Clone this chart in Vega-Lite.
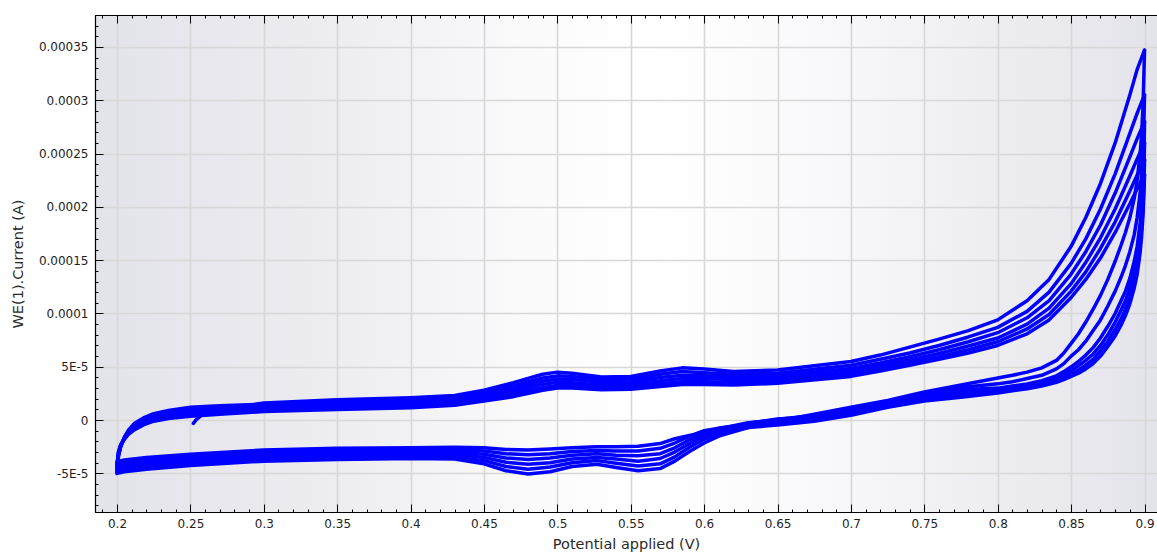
{
  "$schema": "https://vega.github.io/schema/vega-lite/v6.json",
  "width": 1062,
  "height": 497,
  "autosize": {"type": "none"},
  "padding": {"left": 95, "top": 15, "right": 0, "bottom": 40},
  "background": "white",
  "config": {
    "view": {
      "fill": {"gradient": "linear", "x1": 0, "y1": 0, "x2": 1, "y2": 0,
        "stops": [
          {"offset": 0, "color": "#e3e3ea"},
          {"offset": 0.2, "color": "#ebebf0"},
          {"offset": 0.4, "color": "#fafafb"},
          {"offset": 0.52, "color": "#ffffff"},
          {"offset": 0.7, "color": "#f8f8fa"},
          {"offset": 0.85, "color": "#ededf1"},
          {"offset": 1, "color": "#e3e3ea"}
        ]},
      "stroke": "#000000",
      "strokeWidth": 1
    },
    "axis": {
      "labelFont": "DejaVu Sans",
      "labelFontSize": 12,
      "labelColor": "#1e1e1e",
      "titleFont": "DejaVu Sans",
      "titleFontSize": 14.5,
      "titleFontWeight": "normal",
      "titleColor": "#2a2a2a",
      "gridColor": "#d8d8d8",
      "gridWidth": 1.6,
      "domainColor": "#000000",
      "domainWidth": 1.2,
      "tickColor": "#000000",
      "tickWidth": 1,
      "labelOverlap": false,
      "labelFlush": false,
      "labelBound": false
    }
  },
  "data": {"values": [
    {"b":"f1","v":0.252,"i":-0.3e-5},{"b":"f1","v":0.254,"i":0.05e-5},{"b":"f1","v":0.257,"i":0.4e-5},{"b":"f1","v":0.262,"i":0.7e-5},{"b":"f1","v":0.27,"i":0.95e-5},{"b":"f1","v":0.3,"i":1.6e-5},{"b":"f1","v":0.35,"i":1.9e-5},{"b":"f1","v":0.4,"i":2.1e-5},{"b":"f1","v":0.43,"i":2.3e-5},{"b":"f1","v":0.45,"i":2.8e-5},{"b":"f1","v":0.47,"i":3.5e-5},{"b":"f1","v":0.49,"i":4.3e-5},{"b":"f1","v":0.5,"i":4.5e-5},{"b":"f1","v":0.51,"i":4.4e-5},{"b":"f1","v":0.53,"i":4.05e-5},{"b":"f1","v":0.55,"i":4.1e-5},{"b":"f1","v":0.57,"i":4.6e-5},{"b":"f1","v":0.585,"i":4.9e-5},{"b":"f1","v":0.6,"i":4.8e-5},{"b":"f1","v":0.62,"i":4.55e-5},{"b":"f1","v":0.65,"i":4.7e-5},{"b":"f1","v":0.7,"i":5.5e-5},{"b":"f1","v":0.72,"i":6.1e-5},{"b":"f1","v":0.74,"i":6.85e-5},{"b":"f1","v":0.76,"i":7.6e-5},{"b":"f1","v":0.78,"i":8.4e-5},{"b":"f1","v":0.8,"i":9.4e-5},{"b":"f1","v":0.82,"i":11.2e-5},{"b":"f1","v":0.835,"i":13.2e-5},{"b":"f1","v":0.85,"i":16.3e-5},{"b":"f1","v":0.86,"i":19.0e-5},{"b":"f1","v":0.87,"i":22.2e-5},{"b":"f1","v":0.88,"i":26.0e-5},{"b":"f1","v":0.89,"i":30.5e-5},{"b":"f1","v":0.895,"i":32.9e-5},{"b":"f1","v":0.9,"i":34.7e-5},

    {"b":"r1","v":0.9,"i":34.7e-5},{"b":"r1","v":0.8995,"i":32.0e-5},{"b":"r1","v":0.899,"i":29.5e-5},{"b":"r1","v":0.898,"i":26.8e-5},{"b":"r1","v":0.897,"i":25.0e-5},{"b":"r1","v":0.895,"i":22.5e-5},{"b":"r1","v":0.893,"i":20.8e-5},{"b":"r1","v":0.89,"i":19.0e-5},{"b":"r1","v":0.887,"i":17.6e-5},{"b":"r1","v":0.884,"i":16.4e-5},{"b":"r1","v":0.88,"i":14.9e-5},{"b":"r1","v":0.875,"i":13.2e-5},{"b":"r1","v":0.87,"i":11.7e-5},{"b":"r1","v":0.865,"i":10.4e-5},{"b":"r1","v":0.86,"i":9.2e-5},{"b":"r1","v":0.855,"i":8.1e-5},{"b":"r1","v":0.85,"i":7.2e-5},{"b":"r1","v":0.845,"i":6.3e-5},{"b":"r1","v":0.84,"i":5.6e-5},{"b":"r1","v":0.83,"i":4.9e-5},{"b":"r1","v":0.82,"i":4.5e-5},{"b":"r1","v":0.81,"i":4.2e-5},{"b":"r1","v":0.8,"i":3.95e-5},{"b":"r1","v":0.775,"i":3.3e-5},{"b":"r1","v":0.75,"i":2.65e-5},{"b":"r1","v":0.725,"i":1.85e-5},{"b":"r1","v":0.7,"i":1.2e-5},{"b":"r1","v":0.675,"i":0.55e-5},{"b":"r1","v":0.65,"i":-0.1e-5},{"b":"r1","v":0.63,"i":-0.7e-5},{"b":"r1","v":0.61,"i":-1.5e-5},{"b":"r1","v":0.6,"i":-2.15e-5},{"b":"r1","v":0.59,"i":-2.95e-5},{"b":"r1","v":0.58,"i":-3.85e-5},{"b":"r1","v":0.57,"i":-4.55e-5},{"b":"r1","v":0.555,"i":-4.75e-5},{"b":"r1","v":0.54,"i":-4.45e-5},{"b":"r1","v":0.527,"i":-4.15e-5},{"b":"r1","v":0.51,"i":-4.35e-5},{"b":"r1","v":0.495,"i":-4.85e-5},{"b":"r1","v":0.48,"i":-5.05e-5},{"b":"r1","v":0.465,"i":-4.75e-5},{"b":"r1","v":0.45,"i":-4.1e-5},{"b":"r1","v":0.43,"i":-3.65e-5},{"b":"r1","v":0.4,"i":-3.6e-5},{"b":"r1","v":0.35,"i":-3.7e-5},{"b":"r1","v":0.3,"i":-3.85e-5},{"b":"r1","v":0.25,"i":-4.25e-5},{"b":"r1","v":0.22,"i":-4.6e-5},{"b":"r1","v":0.205,"i":-4.85e-5},{"b":"r1","v":0.2,"i":-5.0e-5},

    {"b":"f2","v":0.2,"i":-5.0e-5},{"b":"f2","v":0.2005,"i":-4.2e-5},{"b":"f2","v":0.201,"i":-3.4e-5},{"b":"f2","v":0.2025,"i":-2.5e-5},{"b":"f2","v":0.205,"i":-1.6e-5},{"b":"f2","v":0.208,"i":-0.9e-5},{"b":"f2","v":0.212,"i":-0.3e-5},{"b":"f2","v":0.218,"i":0.2e-5},{"b":"f2","v":0.225,"i":0.6e-5},{"b":"f2","v":0.235,"i":0.9e-5},{"b":"f2","v":0.25,"i":1.2e-5},{"b":"f2","v":0.27,"i":1.35e-5},{"b":"f2","v":0.3,"i":1.5e-5},{"b":"f2","v":0.35,"i":1.75e-5},{"b":"f2","v":0.4,"i":1.95e-5},{"b":"f2","v":0.43,"i":2.15e-5},{"b":"f2","v":0.45,"i":2.6e-5},{"b":"f2","v":0.47,"i":3.2e-5},{"b":"f2","v":0.49,"i":3.95e-5},{"b":"f2","v":0.5,"i":4.15e-5},{"b":"f2","v":0.51,"i":4.1e-5},{"b":"f2","v":0.53,"i":3.8e-5},{"b":"f2","v":0.55,"i":3.85e-5},{"b":"f2","v":0.57,"i":4.3e-5},{"b":"f2","v":0.585,"i":4.55e-5},{"b":"f2","v":0.6,"i":4.45e-5},{"b":"f2","v":0.62,"i":4.3e-5},{"b":"f2","v":0.65,"i":4.4e-5},{"b":"f2","v":0.7,"i":5.15e-5},{"b":"f2","v":0.72,"i":5.7e-5},{"b":"f2","v":0.74,"i":6.3e-5},{"b":"f2","v":0.76,"i":7.0e-5},{"b":"f2","v":0.78,"i":7.8e-5},{"b":"f2","v":0.8,"i":8.7e-5},{"b":"f2","v":0.82,"i":10.2e-5},{"b":"f2","v":0.835,"i":12.0e-5},{"b":"f2","v":0.85,"i":14.7e-5},{"b":"f2","v":0.86,"i":17.0e-5},{"b":"f2","v":0.87,"i":19.8e-5},{"b":"f2","v":0.88,"i":23.1e-5},{"b":"f2","v":0.89,"i":26.9e-5},{"b":"f2","v":0.895,"i":28.8e-5},{"b":"f2","v":0.9,"i":30.5e-5},

    {"b":"r2","v":0.9,"i":30.5e-5},{"b":"r2","v":0.8995,"i":27.6e-5},{"b":"r2","v":0.899,"i":25.4e-5},{"b":"r2","v":0.898,"i":23.0e-5},{"b":"r2","v":0.897,"i":21.3e-5},{"b":"r2","v":0.895,"i":19.0e-5},{"b":"r2","v":0.893,"i":17.4e-5},{"b":"r2","v":0.89,"i":15.8e-5},{"b":"r2","v":0.887,"i":14.5e-5},{"b":"r2","v":0.884,"i":13.4e-5},{"b":"r2","v":0.88,"i":12.1e-5},{"b":"r2","v":0.875,"i":10.7e-5},{"b":"r2","v":0.87,"i":9.4e-5},{"b":"r2","v":0.865,"i":8.4e-5},{"b":"r2","v":0.86,"i":7.4e-5},{"b":"r2","v":0.855,"i":6.6e-5},{"b":"r2","v":0.85,"i":6.0e-5},{"b":"r2","v":0.845,"i":5.3e-5},{"b":"r2","v":0.84,"i":4.8e-5},{"b":"r2","v":0.83,"i":4.2e-5},{"b":"r2","v":0.82,"i":3.9e-5},{"b":"r2","v":0.81,"i":3.6e-5},{"b":"r2","v":0.8,"i":3.4e-5},{"b":"r2","v":0.775,"i":3.05e-5},{"b":"r2","v":0.75,"i":2.5e-5},{"b":"r2","v":0.725,"i":1.7e-5},{"b":"r2","v":0.7,"i":1.05e-5},{"b":"r2","v":0.675,"i":0.45e-5},{"b":"r2","v":0.65,"i":0.05e-5},{"b":"r2","v":0.63,"i":-0.45e-5},{"b":"r2","v":0.61,"i":-1.25e-5},{"b":"r2","v":0.6,"i":-1.8e-5},{"b":"r2","v":0.59,"i":-2.55e-5},{"b":"r2","v":0.58,"i":-3.45e-5},{"b":"r2","v":0.57,"i":-4.1e-5},{"b":"r2","v":0.555,"i":-4.3e-5},{"b":"r2","v":0.54,"i":-4.05e-5},{"b":"r2","v":0.527,"i":-3.8e-5},{"b":"r2","v":0.51,"i":-4.0e-5},{"b":"r2","v":0.495,"i":-4.4e-5},{"b":"r2","v":0.48,"i":-4.6e-5},{"b":"r2","v":0.465,"i":-4.35e-5},{"b":"r2","v":0.45,"i":-3.8e-5},{"b":"r2","v":0.43,"i":-3.45e-5},{"b":"r2","v":0.4,"i":-3.4e-5},{"b":"r2","v":0.35,"i":-3.5e-5},{"b":"r2","v":0.3,"i":-3.65e-5},{"b":"r2","v":0.25,"i":-4.05e-5},{"b":"r2","v":0.22,"i":-4.4e-5},{"b":"r2","v":0.205,"i":-4.65e-5},{"b":"r2","v":0.2,"i":-4.8e-5},

    {"b":"f3","v":0.2,"i":-4.8e-5},{"b":"f3","v":0.2005,"i":-4.0e-5},{"b":"f3","v":0.201,"i":-3.3e-5},{"b":"f3","v":0.2025,"i":-2.45e-5},{"b":"f3","v":0.205,"i":-1.65e-5},{"b":"f3","v":0.208,"i":-1.0e-5},{"b":"f3","v":0.212,"i":-0.45e-5},{"b":"f3","v":0.218,"i":0.0},{"b":"f3","v":0.225,"i":0.4e-5},{"b":"f3","v":0.235,"i":0.7e-5},{"b":"f3","v":0.25,"i":0.95e-5},{"b":"f3","v":0.27,"i":1.15e-5},{"b":"f3","v":0.3,"i":1.3e-5},{"b":"f3","v":0.35,"i":1.55e-5},{"b":"f3","v":0.4,"i":1.75e-5},{"b":"f3","v":0.43,"i":2.0e-5},{"b":"f3","v":0.45,"i":2.4e-5},{"b":"f3","v":0.47,"i":2.95e-5},{"b":"f3","v":0.49,"i":3.65e-5},{"b":"f3","v":0.5,"i":3.85e-5},{"b":"f3","v":0.51,"i":3.8e-5},{"b":"f3","v":0.53,"i":3.55e-5},{"b":"f3","v":0.55,"i":3.6e-5},{"b":"f3","v":0.57,"i":4.0e-5},{"b":"f3","v":0.585,"i":4.2e-5},{"b":"f3","v":0.6,"i":4.15e-5},{"b":"f3","v":0.62,"i":4.05e-5},{"b":"f3","v":0.65,"i":4.15e-5},{"b":"f3","v":0.7,"i":4.85e-5},{"b":"f3","v":0.72,"i":5.35e-5},{"b":"f3","v":0.74,"i":5.95e-5},{"b":"f3","v":0.76,"i":6.6e-5},{"b":"f3","v":0.78,"i":7.35e-5},{"b":"f3","v":0.8,"i":8.2e-5},{"b":"f3","v":0.82,"i":9.6e-5},{"b":"f3","v":0.835,"i":11.2e-5},{"b":"f3","v":0.85,"i":13.7e-5},{"b":"f3","v":0.86,"i":15.8e-5},{"b":"f3","v":0.87,"i":18.3e-5},{"b":"f3","v":0.88,"i":21.3e-5},{"b":"f3","v":0.89,"i":24.7e-5},{"b":"f3","v":0.895,"i":26.4e-5},{"b":"f3","v":0.9,"i":28.0e-5},

    {"b":"r3","v":0.9,"i":28.0e-5},{"b":"r3","v":0.8995,"i":24.3e-5},{"b":"r3","v":0.899,"i":22.4e-5},{"b":"r3","v":0.898,"i":20.1e-5},{"b":"r3","v":0.897,"i":18.5e-5},{"b":"r3","v":0.895,"i":16.3e-5},{"b":"r3","v":0.893,"i":14.9e-5},{"b":"r3","v":0.89,"i":13.3e-5},{"b":"r3","v":0.887,"i":12.1e-5},{"b":"r3","v":0.884,"i":11.2e-5},{"b":"r3","v":0.88,"i":10.0e-5},{"b":"r3","v":0.875,"i":8.8e-5},{"b":"r3","v":0.87,"i":7.7e-5},{"b":"r3","v":0.865,"i":6.8e-5},{"b":"r3","v":0.86,"i":6.1e-5},{"b":"r3","v":0.855,"i":5.5e-5},{"b":"r3","v":0.85,"i":5.0e-5},{"b":"r3","v":0.845,"i":4.55e-5},{"b":"r3","v":0.84,"i":4.15e-5},{"b":"r3","v":0.83,"i":3.7e-5},{"b":"r3","v":0.82,"i":3.4e-5},{"b":"r3","v":0.81,"i":3.2e-5},{"b":"r3","v":0.8,"i":3.0e-5},{"b":"r3","v":0.775,"i":2.85e-5},{"b":"r3","v":0.75,"i":2.3e-5},{"b":"r3","v":0.725,"i":1.6e-5},{"b":"r3","v":0.7,"i":0.9e-5},{"b":"r3","v":0.675,"i":0.35e-5},{"b":"r3","v":0.65,"i":0.1e-5},{"b":"r3","v":0.63,"i":-0.3e-5},{"b":"r3","v":0.61,"i":-1.0e-5},{"b":"r3","v":0.6,"i":-1.5e-5},{"b":"r3","v":0.59,"i":-2.2e-5},{"b":"r3","v":0.58,"i":-3.0e-5},{"b":"r3","v":0.57,"i":-3.6e-5},{"b":"r3","v":0.555,"i":-3.85e-5},{"b":"r3","v":0.54,"i":-3.65e-5},{"b":"r3","v":0.527,"i":-3.5e-5},{"b":"r3","v":0.51,"i":-3.65e-5},{"b":"r3","v":0.495,"i":-4.0e-5},{"b":"r3","v":0.48,"i":-4.15e-5},{"b":"r3","v":0.465,"i":-3.95e-5},{"b":"r3","v":0.45,"i":-3.5e-5},{"b":"r3","v":0.43,"i":-3.2e-5},{"b":"r3","v":0.4,"i":-3.2e-5},{"b":"r3","v":0.35,"i":-3.3e-5},{"b":"r3","v":0.3,"i":-3.45e-5},{"b":"r3","v":0.25,"i":-3.85e-5},{"b":"r3","v":0.22,"i":-4.15e-5},{"b":"r3","v":0.205,"i":-4.4e-5},{"b":"r3","v":0.2,"i":-4.55e-5},

    {"b":"f4","v":0.2,"i":-4.55e-5},{"b":"f4","v":0.2005,"i":-3.85e-5},{"b":"f4","v":0.201,"i":-3.15e-5},{"b":"f4","v":0.2025,"i":-2.4e-5},{"b":"f4","v":0.205,"i":-1.7e-5},{"b":"f4","v":0.208,"i":-1.1e-5},{"b":"f4","v":0.212,"i":-0.6e-5},{"b":"f4","v":0.218,"i":-0.15e-5},{"b":"f4","v":0.225,"i":0.2e-5},{"b":"f4","v":0.235,"i":0.5e-5},{"b":"f4","v":0.25,"i":0.75e-5},{"b":"f4","v":0.27,"i":0.95e-5},{"b":"f4","v":0.3,"i":1.1e-5},{"b":"f4","v":0.35,"i":1.35e-5},{"b":"f4","v":0.4,"i":1.55e-5},{"b":"f4","v":0.43,"i":1.8e-5},{"b":"f4","v":0.45,"i":2.2e-5},{"b":"f4","v":0.47,"i":2.7e-5},{"b":"f4","v":0.49,"i":3.35e-5},{"b":"f4","v":0.5,"i":3.55e-5},{"b":"f4","v":0.51,"i":3.5e-5},{"b":"f4","v":0.53,"i":3.3e-5},{"b":"f4","v":0.55,"i":3.35e-5},{"b":"f4","v":0.57,"i":3.7e-5},{"b":"f4","v":0.585,"i":3.9e-5},{"b":"f4","v":0.6,"i":3.9e-5},{"b":"f4","v":0.62,"i":3.8e-5},{"b":"f4","v":0.65,"i":3.9e-5},{"b":"f4","v":0.7,"i":4.6e-5},{"b":"f4","v":0.72,"i":5.1e-5},{"b":"f4","v":0.74,"i":5.65e-5},{"b":"f4","v":0.76,"i":6.25e-5},{"b":"f4","v":0.78,"i":6.95e-5},{"b":"f4","v":0.8,"i":7.7e-5},{"b":"f4","v":0.82,"i":9.0e-5},{"b":"f4","v":0.835,"i":10.5e-5},{"b":"f4","v":0.85,"i":12.8e-5},{"b":"f4","v":0.86,"i":14.8e-5},{"b":"f4","v":0.87,"i":17.1e-5},{"b":"f4","v":0.88,"i":19.8e-5},{"b":"f4","v":0.89,"i":22.9e-5},{"b":"f4","v":0.895,"i":24.5e-5},{"b":"f4","v":0.9,"i":26.0e-5},

    {"b":"r4","v":0.9,"i":26.0e-5},{"b":"r4","v":0.8995,"i":23.0e-5},{"b":"r4","v":0.899,"i":21.1e-5},{"b":"r4","v":0.898,"i":18.9e-5},{"b":"r4","v":0.897,"i":17.4e-5},{"b":"r4","v":0.895,"i":15.3e-5},{"b":"r4","v":0.893,"i":13.9e-5},{"b":"r4","v":0.89,"i":12.4e-5},{"b":"r4","v":0.887,"i":11.2e-5},{"b":"r4","v":0.884,"i":10.3e-5},{"b":"r4","v":0.88,"i":9.2e-5},{"b":"r4","v":0.875,"i":8.0e-5},{"b":"r4","v":0.87,"i":7.0e-5},{"b":"r4","v":0.865,"i":6.2e-5},{"b":"r4","v":0.86,"i":5.6e-5},{"b":"r4","v":0.855,"i":5.1e-5},{"b":"r4","v":0.85,"i":4.65e-5},{"b":"r4","v":0.845,"i":4.25e-5},{"b":"r4","v":0.84,"i":3.9e-5},{"b":"r4","v":0.83,"i":3.5e-5},{"b":"r4","v":0.82,"i":3.25e-5},{"b":"r4","v":0.81,"i":3.0e-5},{"b":"r4","v":0.8,"i":2.8e-5},{"b":"r4","v":0.775,"i":2.6e-5},{"b":"r4","v":0.75,"i":2.15e-5},{"b":"r4","v":0.725,"i":1.45e-5},{"b":"r4","v":0.7,"i":0.75e-5},{"b":"r4","v":0.675,"i":0.2e-5},{"b":"r4","v":0.65,"i":0.0},{"b":"r4","v":0.63,"i":-0.25e-5},{"b":"r4","v":0.61,"i":-0.8e-5},{"b":"r4","v":0.6,"i":-1.2e-5},{"b":"r4","v":0.59,"i":-1.85e-5},{"b":"r4","v":0.58,"i":-2.6e-5},{"b":"r4","v":0.57,"i":-3.15e-5},{"b":"r4","v":0.555,"i":-3.35e-5},{"b":"r4","v":0.54,"i":-3.3e-5},{"b":"r4","v":0.527,"i":-3.15e-5},{"b":"r4","v":0.51,"i":-3.3e-5},{"b":"r4","v":0.495,"i":-3.55e-5},{"b":"r4","v":0.48,"i":-3.7e-5},{"b":"r4","v":0.465,"i":-3.55e-5},{"b":"r4","v":0.45,"i":-3.2e-5},{"b":"r4","v":0.43,"i":-3.0e-5},{"b":"r4","v":0.4,"i":-3.0e-5},{"b":"r4","v":0.35,"i":-3.05e-5},{"b":"r4","v":0.3,"i":-3.2e-5},{"b":"r4","v":0.25,"i":-3.6e-5},{"b":"r4","v":0.22,"i":-3.95e-5},{"b":"r4","v":0.205,"i":-4.2e-5},{"b":"r4","v":0.2,"i":-4.35e-5},

    {"b":"f5","v":0.2,"i":-4.35e-5},{"b":"f5","v":0.2005,"i":-3.7e-5},{"b":"f5","v":0.201,"i":-3.05e-5},{"b":"f5","v":0.2025,"i":-2.35e-5},{"b":"f5","v":0.205,"i":-1.75e-5},{"b":"f5","v":0.208,"i":-1.2e-5},{"b":"f5","v":0.212,"i":-0.75e-5},{"b":"f5","v":0.218,"i":-0.3e-5},{"b":"f5","v":0.225,"i":0.05e-5},{"b":"f5","v":0.235,"i":0.3e-5},{"b":"f5","v":0.25,"i":0.55e-5},{"b":"f5","v":0.27,"i":0.75e-5},{"b":"f5","v":0.3,"i":0.95e-5},{"b":"f5","v":0.35,"i":1.15e-5},{"b":"f5","v":0.4,"i":1.35e-5},{"b":"f5","v":0.43,"i":1.6e-5},{"b":"f5","v":0.45,"i":2.0e-5},{"b":"f5","v":0.47,"i":2.45e-5},{"b":"f5","v":0.49,"i":3.05e-5},{"b":"f5","v":0.5,"i":3.25e-5},{"b":"f5","v":0.51,"i":3.25e-5},{"b":"f5","v":0.53,"i":3.05e-5},{"b":"f5","v":0.55,"i":3.1e-5},{"b":"f5","v":0.57,"i":3.4e-5},{"b":"f5","v":0.585,"i":3.6e-5},{"b":"f5","v":0.6,"i":3.6e-5},{"b":"f5","v":0.62,"i":3.55e-5},{"b":"f5","v":0.65,"i":3.65e-5},{"b":"f5","v":0.7,"i":4.35e-5},{"b":"f5","v":0.72,"i":4.85e-5},{"b":"f5","v":0.74,"i":5.4e-5},{"b":"f5","v":0.76,"i":5.95e-5},{"b":"f5","v":0.78,"i":6.6e-5},{"b":"f5","v":0.8,"i":7.35e-5},{"b":"f5","v":0.82,"i":8.55e-5},{"b":"f5","v":0.835,"i":9.9e-5},{"b":"f5","v":0.85,"i":12.1e-5},{"b":"f5","v":0.86,"i":13.9e-5},{"b":"f5","v":0.87,"i":16.1e-5},{"b":"f5","v":0.88,"i":18.6e-5},{"b":"f5","v":0.89,"i":21.5e-5},{"b":"f5","v":0.895,"i":23.0e-5},{"b":"f5","v":0.9,"i":24.4e-5},

    {"b":"r5","v":0.9,"i":24.4e-5},{"b":"r5","v":0.8995,"i":21.9e-5},{"b":"r5","v":0.899,"i":20.1e-5},{"b":"r5","v":0.898,"i":18.0e-5},{"b":"r5","v":0.897,"i":16.4e-5},{"b":"r5","v":0.895,"i":14.4e-5},{"b":"r5","v":0.893,"i":13.1e-5},{"b":"r5","v":0.89,"i":11.5e-5},{"b":"r5","v":0.887,"i":10.4e-5},{"b":"r5","v":0.884,"i":9.5e-5},{"b":"r5","v":0.88,"i":8.5e-5},{"b":"r5","v":0.875,"i":7.4e-5},{"b":"r5","v":0.87,"i":6.5e-5},{"b":"r5","v":0.865,"i":5.7e-5},{"b":"r5","v":0.86,"i":5.15e-5},{"b":"r5","v":0.855,"i":4.7e-5},{"b":"r5","v":0.85,"i":4.35e-5},{"b":"r5","v":0.845,"i":4.0e-5},{"b":"r5","v":0.84,"i":3.7e-5},{"b":"r5","v":0.83,"i":3.35e-5},{"b":"r5","v":0.82,"i":3.1e-5},{"b":"r5","v":0.81,"i":2.85e-5},{"b":"r5","v":0.8,"i":2.65e-5},{"b":"r5","v":0.775,"i":2.4e-5},{"b":"r5","v":0.75,"i":1.95e-5},{"b":"r5","v":0.725,"i":1.35e-5},{"b":"r5","v":0.7,"i":0.6e-5},{"b":"r5","v":0.675,"i":0.05e-5},{"b":"r5","v":0.65,"i":-0.2e-5},{"b":"r5","v":0.63,"i":-0.4e-5},{"b":"r5","v":0.61,"i":-0.75e-5},{"b":"r5","v":0.6,"i":-1.0e-5},{"b":"r5","v":0.59,"i":-1.5e-5},{"b":"r5","v":0.58,"i":-2.15e-5},{"b":"r5","v":0.57,"i":-2.65e-5},{"b":"r5","v":0.555,"i":-2.9e-5},{"b":"r5","v":0.54,"i":-2.9e-5},{"b":"r5","v":0.527,"i":-2.85e-5},{"b":"r5","v":0.51,"i":-2.95e-5},{"b":"r5","v":0.495,"i":-3.15e-5},{"b":"r5","v":0.48,"i":-3.25e-5},{"b":"r5","v":0.465,"i":-3.15e-5},{"b":"r5","v":0.45,"i":-2.9e-5},{"b":"r5","v":0.43,"i":-2.75e-5},{"b":"r5","v":0.4,"i":-2.8e-5},{"b":"r5","v":0.35,"i":-2.85e-5},{"b":"r5","v":0.3,"i":-3.0e-5},{"b":"r5","v":0.25,"i":-3.4e-5},{"b":"r5","v":0.22,"i":-3.7e-5},{"b":"r5","v":0.205,"i":-3.95e-5},{"b":"r5","v":0.2,"i":-4.1e-5},

    {"b":"f6","v":0.2,"i":-4.1e-5},{"b":"f6","v":0.2005,"i":-3.55e-5},{"b":"f6","v":0.201,"i":-2.95e-5},{"b":"f6","v":0.2025,"i":-2.3e-5},{"b":"f6","v":0.205,"i":-1.8e-5},{"b":"f6","v":0.208,"i":-1.3e-5},{"b":"f6","v":0.212,"i":-0.9e-5},{"b":"f6","v":0.218,"i":-0.45e-5},{"b":"f6","v":0.225,"i":-0.1e-5},{"b":"f6","v":0.235,"i":0.15e-5},{"b":"f6","v":0.25,"i":0.35e-5},{"b":"f6","v":0.27,"i":0.55e-5},{"b":"f6","v":0.3,"i":0.8e-5},{"b":"f6","v":0.35,"i":1.0e-5},{"b":"f6","v":0.4,"i":1.15e-5},{"b":"f6","v":0.43,"i":1.4e-5},{"b":"f6","v":0.45,"i":1.8e-5},{"b":"f6","v":0.47,"i":2.2e-5},{"b":"f6","v":0.49,"i":2.8e-5},{"b":"f6","v":0.5,"i":3.0e-5},{"b":"f6","v":0.51,"i":3.0e-5},{"b":"f6","v":0.53,"i":2.85e-5},{"b":"f6","v":0.55,"i":2.9e-5},{"b":"f6","v":0.57,"i":3.15e-5},{"b":"f6","v":0.585,"i":3.35e-5},{"b":"f6","v":0.6,"i":3.35e-5},{"b":"f6","v":0.62,"i":3.3e-5},{"b":"f6","v":0.65,"i":3.45e-5},{"b":"f6","v":0.7,"i":4.1e-5},{"b":"f6","v":0.72,"i":4.6e-5},{"b":"f6","v":0.74,"i":5.15e-5},{"b":"f6","v":0.76,"i":5.7e-5},{"b":"f6","v":0.78,"i":6.3e-5},{"b":"f6","v":0.8,"i":7.0e-5},{"b":"f6","v":0.82,"i":8.1e-5},{"b":"f6","v":0.835,"i":9.4e-5},{"b":"f6","v":0.85,"i":11.5e-5},{"b":"f6","v":0.86,"i":13.2e-5},{"b":"f6","v":0.87,"i":15.2e-5},{"b":"f6","v":0.88,"i":17.6e-5},{"b":"f6","v":0.89,"i":20.3e-5},{"b":"f6","v":0.895,"i":21.7e-5},{"b":"f6","v":0.9,"i":23.0e-5},

    {"b":"r6","v":0.9,"i":23.0e-5},{"b":"r6","v":0.8995,"i":21.0e-5},{"b":"r6","v":0.899,"i":19.3e-5},{"b":"r6","v":0.898,"i":17.2e-5},{"b":"r6","v":0.897,"i":15.7e-5},{"b":"r6","v":0.895,"i":13.7e-5},{"b":"r6","v":0.893,"i":12.4e-5},{"b":"r6","v":0.89,"i":10.9e-5},{"b":"r6","v":0.887,"i":9.8e-5},{"b":"r6","v":0.884,"i":8.9e-5},{"b":"r6","v":0.88,"i":7.9e-5},{"b":"r6","v":0.875,"i":6.9e-5},{"b":"r6","v":0.87,"i":6.0e-5},{"b":"r6","v":0.865,"i":5.3e-5},{"b":"r6","v":0.86,"i":4.8e-5},{"b":"r6","v":0.855,"i":4.4e-5},{"b":"r6","v":0.85,"i":4.1e-5},{"b":"r6","v":0.845,"i":3.8e-5},{"b":"r6","v":0.84,"i":3.55e-5},{"b":"r6","v":0.83,"i":3.2e-5},{"b":"r6","v":0.82,"i":2.95e-5},{"b":"r6","v":0.81,"i":2.75e-5},{"b":"r6","v":0.8,"i":2.55e-5},{"b":"r6","v":0.775,"i":2.15e-5},{"b":"r6","v":0.75,"i":1.8e-5},{"b":"r6","v":0.725,"i":1.2e-5},{"b":"r6","v":0.7,"i":0.45e-5},{"b":"r6","v":0.675,"i":-0.1e-5},{"b":"r6","v":0.65,"i":-0.45e-5},{"b":"r6","v":0.63,"i":-0.7e-5},{"b":"r6","v":0.61,"i":-1.05e-5},{"b":"r6","v":0.6,"i":-1.2e-5},{"b":"r6","v":0.59,"i":-1.45e-5},{"b":"r6","v":0.58,"i":-1.75e-5},{"b":"r6","v":0.57,"i":-2.2e-5},{"b":"r6","v":0.555,"i":-2.45e-5},{"b":"r6","v":0.54,"i":-2.5e-5},{"b":"r6","v":0.527,"i":-2.5e-5},{"b":"r6","v":0.51,"i":-2.6e-5},{"b":"r6","v":0.495,"i":-2.7e-5},{"b":"r6","v":0.48,"i":-2.8e-5},{"b":"r6","v":0.465,"i":-2.75e-5},{"b":"r6","v":0.45,"i":-2.6e-5},{"b":"r6","v":0.43,"i":-2.55e-5},{"b":"r6","v":0.4,"i":-2.6e-5},{"b":"r6","v":0.35,"i":-2.65e-5},{"b":"r6","v":0.3,"i":-2.8e-5},{"b":"r6","v":0.25,"i":-3.2e-5},{"b":"r6","v":0.22,"i":-3.5e-5},{"b":"r6","v":0.205,"i":-3.75e-5},{"b":"r6","v":0.2,"i":-3.9e-5}
  ]},
  "encoding": {
    "y": {
      "field": "i", "type": "quantitative",
      "scale": {"domain": [-0.0000862, 0.000380], "nice": false, "zero": false},
      "axis": {
        "title": "WE(1).Current (A)",
        "titlePadding": 13,
        "values": [-0.00008,-0.00007,-0.00006,-0.00005,-0.00004,-0.00003,-0.00002,-0.00001,0,0.00001,0.00002,0.00003,0.00004,0.00005,0.00006,0.00007,0.00008,0.00009,0.0001,0.00011,0.00012,0.00013,0.00014,0.00015,0.00016,0.00017,0.00018,0.00019,0.0002,0.00021,0.00022,0.00023,0.00024,0.00025,0.00026,0.00027,0.00028,0.00029,0.0003,0.00031,0.00032,0.00033,0.00034,0.00035,0.00036,0.00037,0.00038],
        "labelExpr": "round(datum.value*1000000) % 50 == 0 ? (round(datum.value*1000000) == 0 ? '0' : (abs(datum.value) < 0.00009 ? (datum.value < 0 ? '-' : '') + replace(format(abs(datum.value), '.0e'), 'e', 'E') : format(datum.value, '~g'))) : ''",
        "grid": true,
        "gridOpacity": {"condition": {"test": "round(datum.value*1000000) % 50 == 0", "value": 1}, "value": 0},
        "tickSize": {"condition": {"test": "round(datum.value*1000000) % 50 == 0", "value": -8}, "value": -3},
        "labelPadding": 15
      }
    },
    "detail": {"field": "b", "type": "nominal"}
  },
  "layer": [
    {
      "mark": {"type": "line", "color": "#0000ff", "strokeWidth": 3.5, "strokeJoin": "round", "strokeCap": "round", "clip": true},
      "encoding": {
        "x": {
          "field": "v", "type": "quantitative",
          "scale": {"domain": [0.185, 0.9085], "nice": false, "zero": false},
          "axis": {
            "orient": "bottom",
            "title": "Potential applied (V)",
            "titlePadding": 3,
            "values": [0.19,0.2,0.21,0.22,0.23,0.24,0.25,0.26,0.27,0.28,0.29,0.3,0.31,0.32,0.33,0.34,0.35,0.36,0.37,0.38,0.39,0.4,0.41,0.42,0.43,0.44,0.45,0.46,0.47,0.48,0.49,0.5,0.51,0.52,0.53,0.54,0.55,0.56,0.57,0.58,0.59,0.6,0.61,0.62,0.63,0.64,0.65,0.66,0.67,0.68,0.69,0.7,0.71,0.72,0.73,0.74,0.75,0.76,0.77,0.78,0.79,0.8,0.81,0.82,0.83,0.84,0.85,0.86,0.87,0.88,0.89,0.9],
            "labelExpr": "round(datum.value*100) % 5 == 0 ? format(datum.value, '~g') : ''",
            "grid": true,
            "gridOpacity": {"condition": {"test": "round(datum.value*100) % 5 == 0", "value": 1}, "value": 0},
            "tickSize": {"condition": {"test": "round(datum.value*100) % 5 == 0", "value": -8}, "value": -3},
            "labelPadding": 14
          }
        }
      }
    },
    {
      "mark": {"type": "line", "opacity": 0},
      "encoding": {
        "x": {
          "field": "v", "type": "quantitative",
          "axis": {
            "orient": "top",
            "title": null,
            "labels": false,
            "grid": false,
            "values": [0.19,0.2,0.21,0.22,0.23,0.24,0.25,0.26,0.27,0.28,0.29,0.3,0.31,0.32,0.33,0.34,0.35,0.36,0.37,0.38,0.39,0.4,0.41,0.42,0.43,0.44,0.45,0.46,0.47,0.48,0.49,0.5,0.51,0.52,0.53,0.54,0.55,0.56,0.57,0.58,0.59,0.6,0.61,0.62,0.63,0.64,0.65,0.66,0.67,0.68,0.69,0.7,0.71,0.72,0.73,0.74,0.75,0.76,0.77,0.78,0.79,0.8,0.81,0.82,0.83,0.84,0.85,0.86,0.87,0.88,0.89,0.9],
            "tickSize": {"condition": {"test": "round(datum.value*100) % 5 == 0", "value": -8}, "value": -3}
          }
        }
      }
    }
  ],
  "resolve": {"axis": {"x": "independent"}}
}
